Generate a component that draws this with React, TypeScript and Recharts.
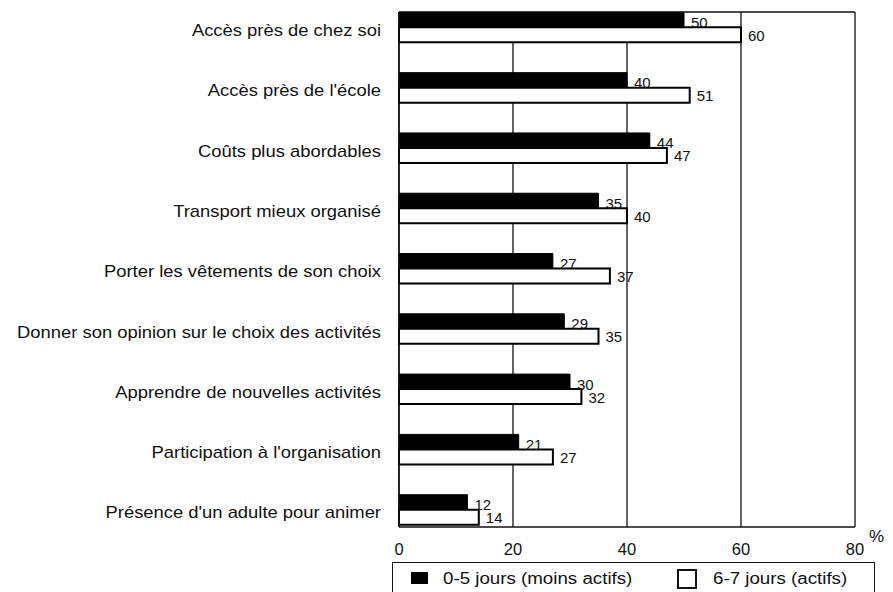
import React from "react";
import {
  Bar,
  BarChart,
  CartesianGrid,
  LabelList,
  Legend,
  XAxis,
  YAxis,
} from "recharts";

const categories = [
  "Accès près de chez soi",
  "Accès près de l'école",
  "Coûts plus abordables",
  "Transport mieux organisé",
  "Porter les vêtements de son choix",
  "Donner son opinion sur le choix des activités",
  "Apprendre de nouvelles activités",
  "Participation à l'organisation",
  "Présence d'un adulte pour animer",
];
const moinsActifs = [50, 40, 44, 35, 27, 29, 30, 21, 12];
const actifs = [60, 51, 47, 40, 37, 35, 32, 27, 14];
const xTicks = [0, 20, 40, 60, 80];
const seriesNames = ["0-5 jours (moins actifs)", "6-7 jours (actifs)"];
const unitLabel = "%";

const data = categories.map((name, i) => ({
  name,
  moins: moinsActifs[i],
  actifs: actifs[i],
}));

const FONT = "'Liberation Sans', Arial, Helvetica, sans-serif";
const INK = "#111";

const CatTick = (props: any) => {
  const { x, y, payload } = props;
  return (
    <g transform={`translate(${x},${y})`}>
      <text
        x={0}
        y={0}
        dy={3}
        textAnchor="end"
        dominantBaseline="central"
        transform="scale(1.15,1)"
        fontSize={16}
        fontFamily={FONT}
        fill={INK}
      >
        {payload.value}
      </text>
    </g>
  );
};

const barLabel = (dy: number) => (props: any) => {
  const { x, y, width, height, value } = props;
  return (
    <text
      x={x + width + 7}
      y={y + height / 2 + dy}
      dominantBaseline="central"
      fontSize={15}
      fontFamily={FONT}
      fill={INK}
    >
      {value}
    </text>
  );
};

// "%" sits just right of the x axis end, a little above the tick labels
const UnitLabel = (props: any) => {
  const { viewBox } = props;
  return (
    <text
      x={viewBox.x + viewBox.width + 14}
      y={viewBox.y + viewBox.height / 2}
      dominantBaseline="central"
      fontSize={17}
      fontFamily={FONT}
      fill={INK}
    >
      {unitLabel}
    </text>
  );
};

const legendText: React.CSSProperties = {
  position: "absolute",
  top: 7,
  height: 18,
  lineHeight: "18px",
  fontSize: 16,
  fontFamily: FONT,
  color: INK,
  whiteSpace: "nowrap",
  transform: "scaleX(1.17)",
  transformOrigin: "left center",
};

const LegendBox = () => (
  <div
    style={{
      position: "relative",
      width: "100%",
      height: "100%",
      boxSizing: "border-box",
      border: `1.5px solid ${INK}`,
      background: "#fff",
    }}
  >
    <span
      style={{ position: "absolute", left: 18, top: 9, width: 17, height: 12, background: "#000" }}
    />
    <span style={{ ...legendText, left: 50 }}>{seriesNames[0]}</span>
    <span
      style={{
        position: "absolute",
        left: 284,
        top: 6,
        width: 20,
        height: 20,
        boxSizing: "border-box",
        border: `2px solid ${INK}`,
        background: "#fff",
      }}
    />
    <span style={{ ...legendText, left: 320 }}>{seriesNames[1]}</span>
  </div>
);

export default function App() {
  return (
    <BarChart
      width={885}
      height={584}
      data={data}
      layout="vertical"
      barGap={0}
      margin={{ top: 3, right: 38, bottom: 47, left: 0 }}
      style={{ fontFamily: FONT }}
    >
      <CartesianGrid horizontal={false} stroke={INK} strokeWidth={1.3} />
      <XAxis
        type="number"
        domain={[0, 80]}
        ticks={xTicks}
        interval={0}
        axisLine={{ stroke: INK, strokeWidth: 1.5 }}
        tickLine={false}
        tickSize={0}
        tickMargin={16}
        height={18}
        tick={{ fontSize: 16.5, fill: INK, fontFamily: FONT }}
        label={<UnitLabel />}
      />
      <XAxis
        xAxisId="top"
        orientation="top"
        type="number"
        domain={[0, 80]}
        height={1}
        tick={false}
        tickLine={false}
        axisLine={{ stroke: INK, strokeWidth: 1.5 }}
      />
      <YAxis
        type="category"
        dataKey="name"
        width={391}
        interval={0}
        axisLine={{ stroke: INK, strokeWidth: 1.5 }}
        tickLine={false}
        tickSize={0}
        tickMargin={18}
        padding={{ top: -14.65, bottom: -13 }}
        tick={<CatTick />}
      />
      <Bar
        dataKey="moins"
        name={seriesNames[0]}
        fill="#000"
        stroke="#000"
        strokeWidth={1}
        barSize={15}
        isAnimationActive={false}
      >
        <LabelList dataKey="moins" content={barLabel(2.5)} />
      </Bar>
      <Bar
        dataKey="actifs"
        name={seriesNames[1]}
        fill="#fff"
        stroke="#000"
        strokeWidth={2}
        barSize={15}
        isAnimationActive={false}
      >
        <LabelList dataKey="actifs" content={barLabel(0.5)} />
      </Bar>
      <Legend
        layout="vertical"
        align="center"
        verticalAlign="middle"
        content={<LegendBox />}
        wrapperStyle={{ left: 384, top: 554, width: 483, height: 40 }}
      />
    </BarChart>
  );
}
